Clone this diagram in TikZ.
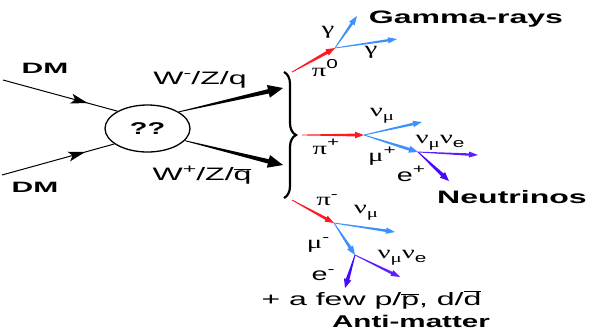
\documentclass[tikz,border=0pt]{standalone}
\usepackage{fontspec}
\setmainfont{Liberation Sans}
\newfontfamily\grk{Liberation Serif}
\usepackage{graphicx}
\usetikzlibrary{calc,shapes.geometric,decorations.pathreplacing,arrows.meta}
\definecolor{pired}{RGB}{255,25,35}
\definecolor{gblue}{RGB}{60,145,255}
\definecolor{nviolet}{RGB}{90,30,255}
\definecolor{eviolet}{RGB}{70,10,255}
\newcommand\wx[1]{\scalebox{1.78}[1]{#1}}
\newcommand\gx[1]{\scalebox{1.6}[1]{#1}}
\newcommand\supr[1]{\raisebox{0.42em}{\fontsize{13}{13}\selectfont #1}}
\newcommand\subr[1]{\raisebox{-0.25em}{\fontsize{13}{13}\selectfont #1}}
% tapered arrow: colour, from, to, shaft half-width at head, head length, head half-width
\newcommand\tarr[6]{%
  \coordinate (tA) at (#2);
  \coordinate (tB) at (#3);
  \coordinate (tH) at ($(tB)!#5!(tA)$);
  \fill[#1] ($(tA)!0.4pt!90:(tB)$) -- ($(tH)!#4!-90:(tA)$) -- ($(tH)!#6!-90:(tA)$) -- (tB)
     -- ($(tH)!#6!90:(tA)$) -- ($(tH)!#4!90:(tA)$) -- ($(tA)!0.4pt!-90:(tB)$) -- cycle;
}
% line with a mid arrowhead: from, to
\newcommand\midarr[2]{%
  \draw[line width=1pt] (#1) -- (#2);
  \coordinate (mT) at ($(#1)!0.74!(#2)$);
  \coordinate (mB) at ($(mT)!17pt!(#1)$);
  \coordinate (mN) at ($(mT)!13pt!(#1)$);
  \fill (mT) -- ($(mB)!5pt!90:(mT)$) -- (mN) -- ($(mB)!5pt!-90:(mT)$) -- cycle;
}
\tikzset{
  lbl/.style={inner sep=0pt, font=\fontsize{18}{18}\selectfont},
  big/.style={inner sep=0pt, font=\fontsize{18}{18}\selectfont\bfseries},
  greek/.style={inner sep=0pt, font=\fontsize{18}{18}\selectfont},
}
\begin{document}
\begin{tikzpicture}[x=1pt,y=-1pt]
\useasboundingbox (0,0) rectangle (589,333);
% central blob
\node[draw, ellipse, line width=1.3pt, minimum width=85pt, minimum height=47pt, inner sep=0pt,
      font=\fontsize{17}{17}\selectfont\bfseries] (c) at (147.5,128.5) {\scalebox{1.7}[1]{??}};
% DM
\node[big, font=\fontsize{15}{15}\selectfont\bfseries] (dm1) at (45,68) {\scalebox{2.0}[1]{DM}};
\node[big, font=\fontsize{15}{15}\selectfont\bfseries] (dm2) at (35,187) {\scalebox{2.0}[1]{DM}};
\coordinate (dm1s) at (3,80);
\coordinate (dm2s) at (2,175);
\midarr{dm1s}{c.150}
\midarr{dm2s}{c.205}
% outgoing W/Z/q
\coordinate (wtop) at (283,88);
\coordinate (wbot) at (283,165);
\tarr{black}{c.28}{wtop}{2.2pt}{15pt}{6.5pt}
\tarr{black}{c.-18}{wbot}{2.2pt}{15pt}{6.5pt}
\node[lbl] (wm) at (200,80) {\wx{W\supr{-}/Z/q}};
\node[lbl] (wp) at (202,175) {\wx{W\supr{+}/Z/$\overline{\mbox{q}}$}};
% brace
\coordinate (bt) at (284,72);
\coordinate (bb) at (284,198);
\draw[line width=2.2pt, decorate, decoration={brace, amplitude=12pt}] (bt) -- (bb);
% gamma branch
\coordinate (p0s) at (292,72);
\coordinate (p0e) at (335,48);
\coordinate (g1) at (357,16);
\coordinate (g2) at (397,39);
\tarr{pired}{p0s}{p0e}{1.6pt}{9pt}{3.5pt}
\tarr{gblue}{p0e}{g1}{1.4pt}{9pt}{3.3pt}
\tarr{gblue}{p0e}{g2}{1.2pt}{9pt}{3pt}
\node[greek] (lg1) at (328,32) {\gx{\grk γ}};
\node[greek] (lg2) at (371,52) {\gx{\grk γ}};
\node[greek] (lp0) at (325,68) {\gx{{\grk π}\supr{0}}};
\node[big] (gam) at (466,19) {\wx{Gamma-rays}};
% pi+ branch
\coordinate (pps) at (302,135);
\coordinate (ppe) at (364,135);
\coordinate (nu1) at (422,122);
\coordinate (mup) at (418,152);
\coordinate (nn1) at (478,155);
\coordinate (ep) at (449,181);
\tarr{pired}{pps}{ppe}{1.4pt}{9pt}{3.3pt}
\tarr{gblue}{ppe}{nu1}{1.3pt}{9pt}{3.2pt}
\tarr{gblue}{ppe}{mup}{1.5pt}{9pt}{3.5pt}
\tarr{nviolet}{mup}{nn1}{1.2pt}{9pt}{3pt}
\tarr{eviolet}{mup}{ep}{1.8pt}{9pt}{3.8pt}
\node[greek] (lnu1) at (382,116) {\gx{{\grk ν}\subr{\grk μ}}};
\node[greek] (lpp) at (326,147) {\gx{{\grk π}\supr{+}}};
\node[greek] (lmup) at (382,156) {\gx{{\grk μ}\supr{+}}};
\node[greek] (lnn1) at (440,143) {\gx{{\grk ν}\subr{\grk μ}{\grk ν}\subr{e}}};
\node[greek] (lep) at (411,174) {\gx{e\supr{+}}};
\node[big] (neu) at (512,197) {\wx{Neutrinos}};
% pi- branch
\coordinate (pms) at (292,200);
\coordinate (pme) at (334,223);
\coordinate (nu2) at (395,232);
\coordinate (mum) at (355,255);
\coordinate (nn2) at (400,277);
\coordinate (em) at (345,288);
\tarr{pired}{pms}{pme}{1.4pt}{9pt}{3.3pt}
\tarr{gblue}{pme}{nu2}{1.3pt}{9pt}{3.2pt}
\tarr{gblue}{pme}{mum}{1.5pt}{9pt}{3.5pt}
\tarr{nviolet}{mum}{nn2}{1.3pt}{9pt}{3.2pt}
\tarr{eviolet}{mum}{em}{1.8pt}{9pt}{3.8pt}
\node[greek] (lpm) at (327,200) {\gx{{\grk π}\supr{-}}};
\node[greek] (lnu2) at (366,213) {\gx{{\grk ν}\subr{\grk μ}}};
\node[greek] (lmum) at (318,245) {\gx{{\grk μ}\supr{-}}};
\node[greek] (lnn2) at (402,258) {\gx{{\grk ν}\subr{\grk μ}{\grk ν}\subr{e}}};
\node[greek] (lem) at (323,275) {\gx{e\supr{-}}};
% anti-matter
\node[lbl] (few) at (371.5,300) {\wx{+ a few p/$\overline{\mbox{p}}$, d/$\overline{\mbox{d}}$}};
\node[big, font=\fontsize{17}{17}\selectfont\bfseries] (anti) at (411,321) {\scalebox{1.74}[1]{Anti-matter}};
\end{tikzpicture}
\end{document}
